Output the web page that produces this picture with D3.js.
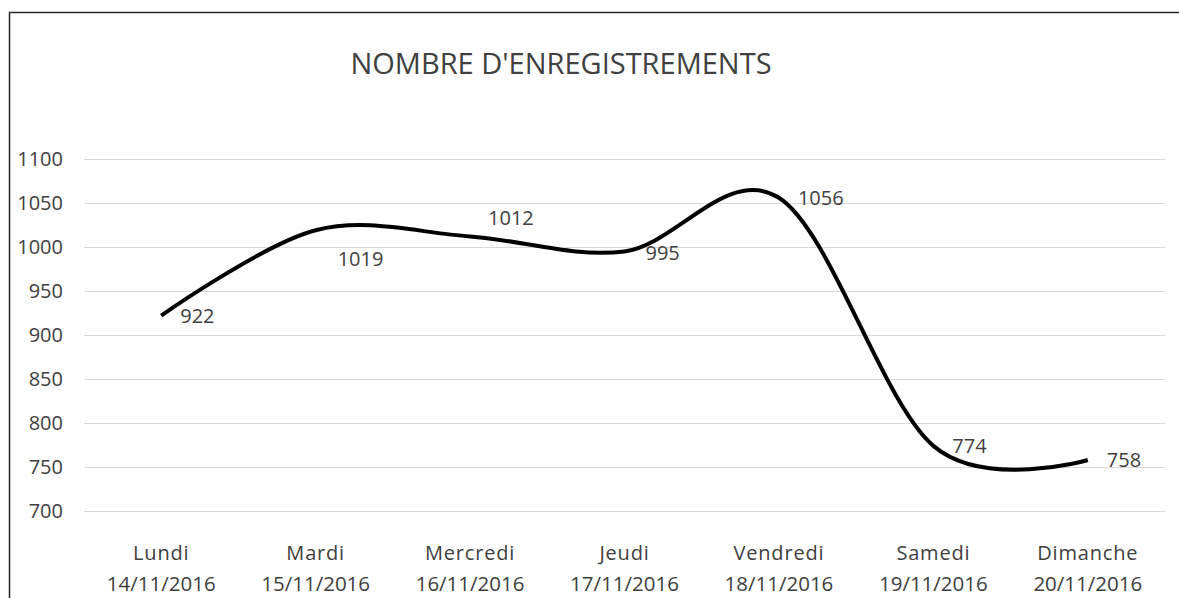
<!DOCTYPE html>
<html>
<head>
<meta charset="utf-8">
<script src="https://cdn.jsdelivr.net/npm/d3@7/dist/d3.min.js"></script>
<style>
  html, body { margin: 0; padding: 0; background: #fff; }
  svg { display: block; }
  text { font-family: "Open Sans", "Noto Sans", sans-serif; fill: #404040; }
</style>
</head>
<body>
<svg id="chart" width="1179" height="598"></svg>
<script>
// ---- data ----
const title = "NOMBRE D'ENREGISTREMENTS";
const days = ["Lundi", "Mardi", "Mercredi", "Jeudi", "Vendredi", "Samedi", "Dimanche"];
const dates = ["14/11/2016", "15/11/2016", "16/11/2016", "17/11/2016", "18/11/2016", "19/11/2016", "20/11/2016"];
const values = [922, 1019, 1012, 995, 1056, 774, 758];
const yTicks = [700, 750, 800, 850, 900, 950, 1000, 1050, 1100];
// label placement nudges (px), styling only
const labelShiftX = [19, 22, 18, 21, 19, 19, 19];
const labelShiftY = [0, 29, -18, 2, 0, 0, 0];

// ---- layout ----
const W = 1179, H = 598;
const plot = { left: 84, right: 1165, top: 159, bottom: 511 };

const svg = d3.select("#chart");

// frame (chart border, partly cropped)
svg.append("path")
  .attr("d", `M9.5,${H} L9.5,12.5 L${W},12.5`)
  .attr("fill", "none")
  .attr("stroke", "#262626")
  .attr("stroke-width", 1.5);

const x = d3.scaleBand().domain(days).range([plot.left, plot.right]).padding(0);
const y = d3.scaleLinear().domain([700, 1100]).range([plot.bottom, plot.top]);
const cx = d => x(d) + x.bandwidth() / 2;

// gridlines
svg.append("g").selectAll("line").data(yTicks).join("line")
  .attr("x1", plot.left).attr("x2", plot.right)
  .attr("y1", d => Math.round(y(d)) + 0.5).attr("y2", d => Math.round(y(d)) + 0.5)
  .attr("stroke", "#d9d9d9").attr("stroke-width", 1);

// y axis labels
const yAxis = d3.axisLeft(y).tickValues(yTicks).tickFormat(d3.format("d")).tickSize(0).tickPadding(0);
const gy = svg.append("g").attr("transform", `translate(63,0)`).call(yAxis);
gy.select(".domain").remove();
gy.selectAll("text")
  .attr("font-size", 20)
  .attr("fill", "#404040")
  .style("font-family", "'Open Sans', sans-serif");

// x axis labels (two lines)
const gx = svg.append("g");
gx.selectAll("text.day").data(days).join("text")
  .attr("class", "day")
  .attr("x", d => cx(d))
  .attr("y", 560)
  .attr("text-anchor", "middle")
  .attr("font-size", 20)
  .attr("letter-spacing", 0.8)
  .text(d => d);
gx.selectAll("text.date").data(dates).join("text")
  .attr("class", "date")
  .attr("x", (d, i) => cx(days[i]))
  .attr("y", 591)
  .attr("text-anchor", "middle")
  .attr("font-size", 20.5)
  .text(d => d);

// line
const pts = values.map((v, i) => ({ day: days[i], v }));
const line = d3.line()
  .x(d => cx(d.day))
  .y(d => y(d.v))
  .curve(d3.curveCardinal.tension(0));
svg.append("path")
  .datum(pts)
  .attr("d", line)
  .attr("fill", "none")
  .attr("stroke", "#000")
  .attr("stroke-width", 4)
  .attr("stroke-linejoin", "round")
  .attr("stroke-linecap", "butt");

// data labels
svg.append("g").selectAll("text").data(pts).join("text")
  .attr("x", (d, i) => cx(d.day) + labelShiftX[i])
  .attr("y", (d, i) => y(d.v) + labelShiftY[i])
  .attr("dy", "0.35em")
  .attr("font-size", 20)
  .text(d => d.v);

// title
svg.append("text")
  .attr("x", 561)
  .attr("y", 74)
  .attr("text-anchor", "middle")
  .attr("font-size", 29)
  .text(title);
</script>
</body>
</html>
